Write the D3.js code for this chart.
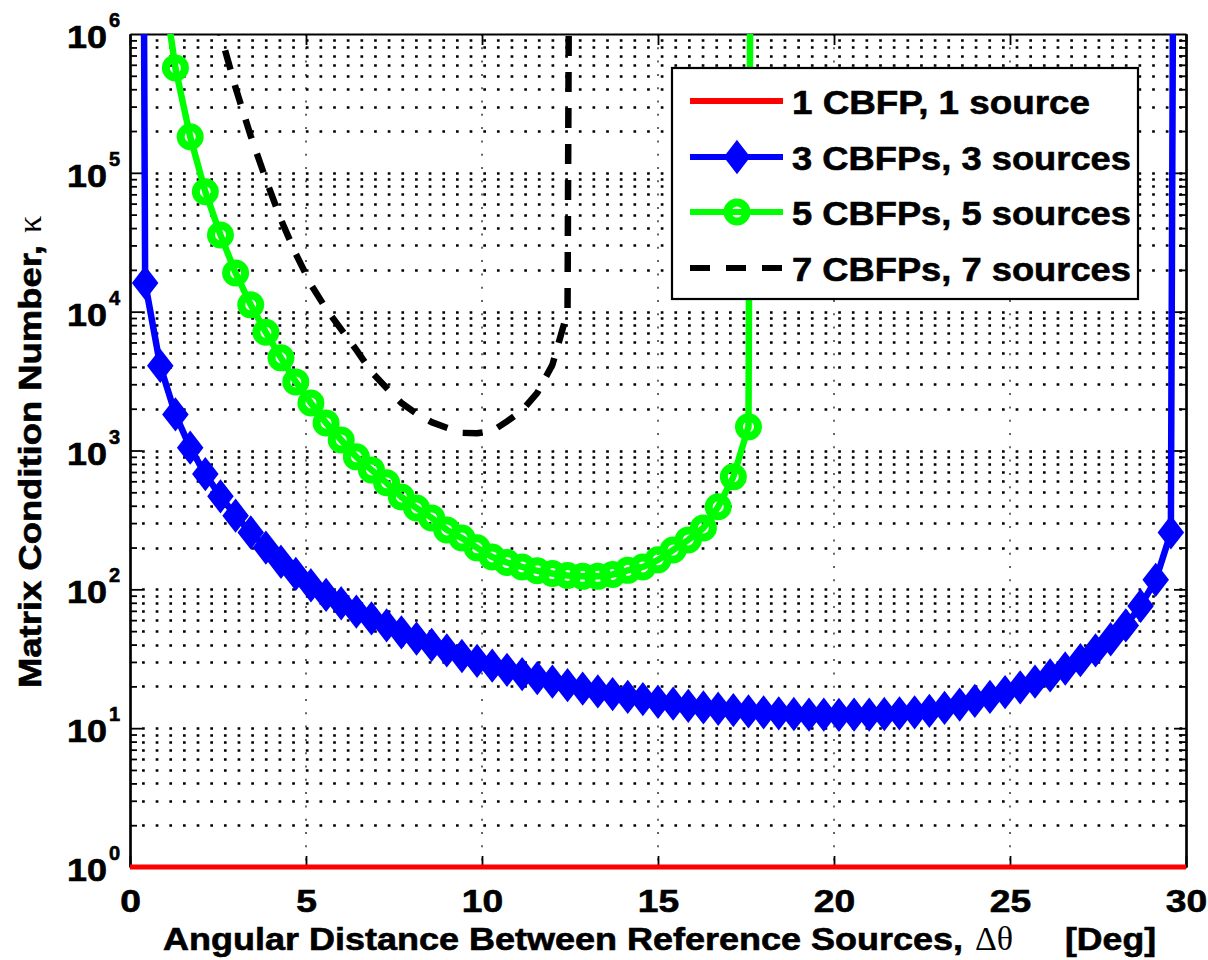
<!DOCTYPE html>
<html>
<head>
<meta charset="utf-8">
<script src="https://cdn.jsdelivr.net/npm/d3@7"></script>
<style>
  body { margin: 0; background: #fff; }
  svg { display: block; }
</style>
</head>
<body>
<script>
// sample angles (deg) used for every curve
const angles = [0, 0.43, 0.86, 1.29, 1.71, 2.14, 2.57, 3.00, 3.43, 3.86, 4.29, 4.71, 5.14, 5.57, 6.00, 6.43,
  6.86, 7.29, 7.71, 8.14, 8.57, 9.00, 9.43, 9.86, 10.29, 10.71, 11.14, 11.57, 12.00, 12.43, 12.86, 13.29,
  13.71, 14.14, 14.57, 15.00, 15.43, 15.86, 16.29, 16.71, 17.14, 17.57, 18.00, 18.43, 18.86, 19.29, 19.71,
  20.14, 20.57, 21.00, 21.43, 21.86, 22.29, 22.71, 23.14, 23.57, 24.00, 24.43, 24.86, 25.29, 25.71, 26.14,
  26.57, 27.00, 27.43, 27.86, 28.29, 28.71, 29.14, 29.57, 30.00];

// condition numbers (1e30 = singular, shoots off the top)
const kappa1Angles = [0, 30];
const kappa1 = [1, 1];

const kappa3 = [1e30, 16100, 4070, 1820, 1047, 676, 468, 339, 257, 200, 158, 129, 107, 91.2, 79.4, 69.2,
  61.7, 55.0, 49.0, 44.2, 39.8, 36.3, 33.1, 30.5, 28.2, 26.3, 24.5, 22.9, 21.6, 20.4, 19.3, 18.4, 17.6,
  16.8, 16.2, 15.5, 15.0, 14.5, 14.1, 13.8, 13.5, 13.2, 13.0, 12.8, 12.65, 12.5, 12.5, 12.45, 12.5, 12.5,
  12.65, 12.8, 13.0, 13.3, 14.0, 14.8, 15.7, 16.8, 18.2, 19.7, 21.6, 24.0, 26.9, 30.9, 36.3, 43.7, 55.0,
  75.9, 117, 257, 1e30];

const kappa5 = [null, null, 3.2e6, 5.7e5, 1.82e5, 7.3e4, 3.57e4, 1.9e4, 1.12e4, 7100, 4650, 3120, 2200,
  1580, 1190, 900, 725, 585, 463, 385, 327, 268, 234, 199, 171, 156, 145, 136, 130, 126, 124, 124, 128,
  137, 145, 163, 192, 227, 277, 393, 646, 1480, 1e30,
  null, null, null, null, null, null, null, null, null, null, null, null, null, null, null, null, null,
  null, null, null, null, null, null, null, null, null, null, null];

const kappa7 = [null, null, null, null, null, 2.4e6, 1.0e6, 4.1e5, 1.84e5, 8.98e4, 4.59e4, 2.61e4, 1.57e4,
  1.05e4, 7450, 5310, 3680, 2820, 2200, 1840, 1600, 1460, 1340, 1330, 1380, 1620, 1940, 2600, 4140, 1.0e4,
  1e30, null, null, null, null, null, null, null, null, null, null, null, null, null, null, null, null, null,
  null, null, null, null, null, null, null, null, null, null, null, null, null, null, null, null, null, null,
  null, null, null, null, null];

const seriesNames = ["1 CBFP, 1 source", "3 CBFPs, 3 sources", "5 CBFPs, 5 sources", "7 CBFPs, 7 sources"];
const xTicks = [0, 5, 10, 15, 20, 25, 30];
const decades = [1, 10, 100, 1e3, 1e4, 1e5, 1e6];

const width = 1208;
const height = 960;
const FONT = "'Liberation Sans', Arial, Helvetica, sans-serif";
const SERIF = "'Liberation Serif', 'Times New Roman', serif";

const x = d3.scaleLinear().domain([0, 30]).range([130, 1186]);
const y = d3.scaleLog().domain([1, 1e6]).range([867, 34]);

const svg = d3.select("body").append("svg")
  .attr("width", width)
  .attr("height", height)
  .attr("font-family", FONT)
  .attr("font-weight", "bold");

svg.append("defs").append("clipPath").attr("id", "plot")
  .append("rect").attr("x", 128).attr("y", 34).attr("width", 1060).attr("height", 837);

// dotted grid
const minor = y.ticks().filter((v) => v > 1 && v < 1e6);
svg.append("g")
  .selectAll("line")
  .data(minor)
  .join("line")
  .attr("x1", x(0)).attr("x2", x(30))
  .attr("y1", (d) => Math.round(y(d)) + 0.5).attr("y2", (d) => Math.round(y(d)) + 0.5)
  .attr("stroke", "#000")
  .attr("stroke-width", 2.7)
  .attr("stroke-dasharray", "2.7 10.95")
  .attr("stroke-dashoffset", 1.6);

svg.append("g")
  .selectAll("line")
  .data(xTicks.slice(1, -1))
  .join("line")
  .attr("x1", (d) => x(d)).attr("x2", (d) => x(d))
  .attr("y1", y(1e6)).attr("y2", y(1))
  .attr("stroke", "#000")
  .attr("stroke-width", 1.2)
  .attr("stroke-dasharray", "2 11.3");

// axes box with inward ticks
const decadeTicks = minor.filter((v) => decades.includes(v));
const minorTicks = minor.filter((v) => !decades.includes(v));

function styleAxis(g) {
  g.select(".domain").attr("stroke-width", 2.2);
  g.selectAll(".tick line").attr("stroke-width", 1.8);
}

const xAxis = svg.append("g")
  .attr("transform", `translate(0,${y(1)})`)
  .call(d3.axisBottom(x).tickValues(xTicks).tickFormat(d3.format("d"))
    .tickSizeInner(-11).tickSizeOuter(0).tickPadding(23))
  .call(styleAxis);
xAxis.selectAll("text")
  .attr("font-size", 31)
  .attr("font-family", FONT)
  .attr("font-weight", "bold")
  .attr("fill", "#000")
  .attr("stroke", "#000")
  .attr("stroke-width", 0.6)
  .attr("transform", "scale(1.2,1)");

svg.append("g")
  .attr("transform", `translate(0,${y(1e6)})`)
  .call(d3.axisTop(x).tickValues(xTicks).tickFormat("").tickSizeInner(-11).tickSizeOuter(0))
  .call(styleAxis);

[[d3.axisLeft, x(0)], [d3.axisRight, x(30)]].forEach(([axis, px]) => {
  svg.append("g")
    .attr("transform", `translate(${px},0)`)
    .call(axis(y).tickValues(decadeTicks).tickFormat("").tickSizeInner(-12).tickSizeOuter(0))
    .call(styleAxis);
  svg.append("g")
    .attr("transform", `translate(${px},0)`)
    .call(axis(y).tickValues(minorTicks).tickFormat("").tickSizeInner(-7).tickSizeOuter(0))
    .call(styleAxis);
});

// text appended after this point gets a thin outline to match the heavy original type
const heavy = (sel) => sel.attr("stroke", "#000").attr("stroke-width", 0.6);

// y tick labels 10^k
const yLab = svg.append("g")
  .selectAll("g")
  .data(decades)
  .join("g")
  .attr("transform", (d) => `translate(107,${y(d)})`);
yLab.append("text")
  .attr("y", 14)
  .attr("text-anchor", "end")
  .attr("font-size", 31)
  .attr("transform", "scale(1.16,1)")
  .call(heavy)
  .text("10");
yLab.append("text")
  .attr("x", 2)
  .attr("y", -7)
  .attr("font-size", 20)
  .call(heavy)
  .text((d) => Math.round(Math.log10(d)));

// axis titles
const xTitle = svg.append("g").attr("transform", "translate(163,950)");
xTitle.append("text")
  .attr("font-size", 31)
  .attr("textLength", 800)
  .attr("lengthAdjust", "spacingAndGlyphs")
  .call(heavy)
  .text("Angular Distance Between Reference Sources,");
xTitle.append("text")
  .attr("x", 812)
  .attr("font-size", 34)
  .attr("font-family", SERIF)
  .attr("font-weight", "normal")
  .text("\u0394\u03b8");
xTitle.append("text")
  .attr("x", 902)
  .attr("font-size", 31)
  .attr("textLength", 91)
  .attr("lengthAdjust", "spacingAndGlyphs")
  .call(heavy)
  .text("[Deg]");

const yTitle = svg.append("g").attr("transform", "translate(41,688) rotate(-90)");
yTitle.append("text")
  .attr("font-size", 31)
  .attr("textLength", 443)
  .attr("lengthAdjust", "spacingAndGlyphs")
  .call(heavy)
  .text("Matrix Condition Number,");
yTitle.append("text")
  .attr("x", 455)
  .attr("font-size", 34)
  .attr("font-family", SERIF)
  .attr("font-weight", "normal")
  .text("\u03ba");

// curves
const line = d3.line()
  .defined((d) => d.k != null)
  .x((d) => x(d.a))
  .y((d) => y(d.k));

const pts = (as, ks) => as.map((a, i) => ({ a, k: ks[i] }));
const diamond = "M0,-15.5L12,0L0,15.5L-12,0Z";

const plot = svg.append("g").attr("clip-path", "url(#plot)");

plot.append("path")
  .attr("d", line(pts(kappa1Angles, kappa1)))
  .attr("fill", "none").attr("stroke", "#ff0000").attr("stroke-width", 5);

plot.append("path")
  .attr("d", line(pts(angles, kappa3)))
  .attr("fill", "none").attr("stroke", "#0000ff").attr("stroke-width", 6.5);
plot.append("g")
  .selectAll("path")
  .data(pts(angles, kappa3).filter((d) => d.k != null && d.k < 1e20))
  .join("path")
  .attr("d", diamond)
  .attr("transform", (d) => `translate(${x(d.a)},${y(d.k)})`)
  .attr("fill", "#0000ff").attr("stroke", "#0000ff").attr("stroke-width", 2);

plot.append("path")
  .attr("d", line(pts(angles, kappa5)))
  .attr("fill", "none").attr("stroke", "#00ff00").attr("stroke-width", 6.5);
plot.append("g")
  .selectAll("circle")
  .data(pts(angles, kappa5).filter((d) => d.k != null && d.k < 1e20))
  .join("circle")
  .attr("cx", (d) => x(d.a))
  .attr("cy", (d) => y(d.k))
  .attr("r", 9.5)
  .attr("fill", "none").attr("stroke", "#00ff00").attr("stroke-width", 8);

plot.append("path")
  .attr("d", line(pts(angles, kappa7)))
  .attr("fill", "none").attr("stroke", "#000").attr("stroke-width", 6.5)
  .attr("stroke-dasharray", "20 16");

// legend
const legend = svg.append("g");
legend.append("rect")
  .attr("x", 672).attr("y", 68).attr("width", 466).attr("height", 231)
  .attr("fill", "#fff").attr("stroke", "#000").attr("stroke-width", 2.2);

const legendRows = [101, 157, 212, 268];
const legendColors = ["#ff0000", "#0000ff", "#00ff00", "#000"];
const legendWidths = [298, 339, 339, 339];

seriesNames.forEach((name, i) => {
  const row = legend.append("g").attr("transform", `translate(0,${legendRows[i]})`);
  row.append("line")
    .attr("x1", 690).attr("x2", 783)
    .attr("stroke", legendColors[i])
    .attr("stroke-width", 6)
    .attr("stroke-dasharray", i === 3 ? "20 16" : null);
  if (i === 1) {
    row.append("path").attr("d", diamond).attr("transform", "translate(737,0)")
      .attr("fill", "#0000ff").attr("stroke", "#0000ff").attr("stroke-width", 2);
  }
  if (i === 2) {
    row.append("circle").attr("cx", 737).attr("r", 9.5)
      .attr("fill", "none").attr("stroke", "#00ff00").attr("stroke-width", 8);
  }
  row.append("text")
    .attr("x", 792).attr("y", 13)
    .attr("font-size", 34)
    .attr("textLength", legendWidths[i])
    .attr("lengthAdjust", "spacingAndGlyphs")
    .call(heavy)
    .text(name);
});
</script>
</body>
</html>
